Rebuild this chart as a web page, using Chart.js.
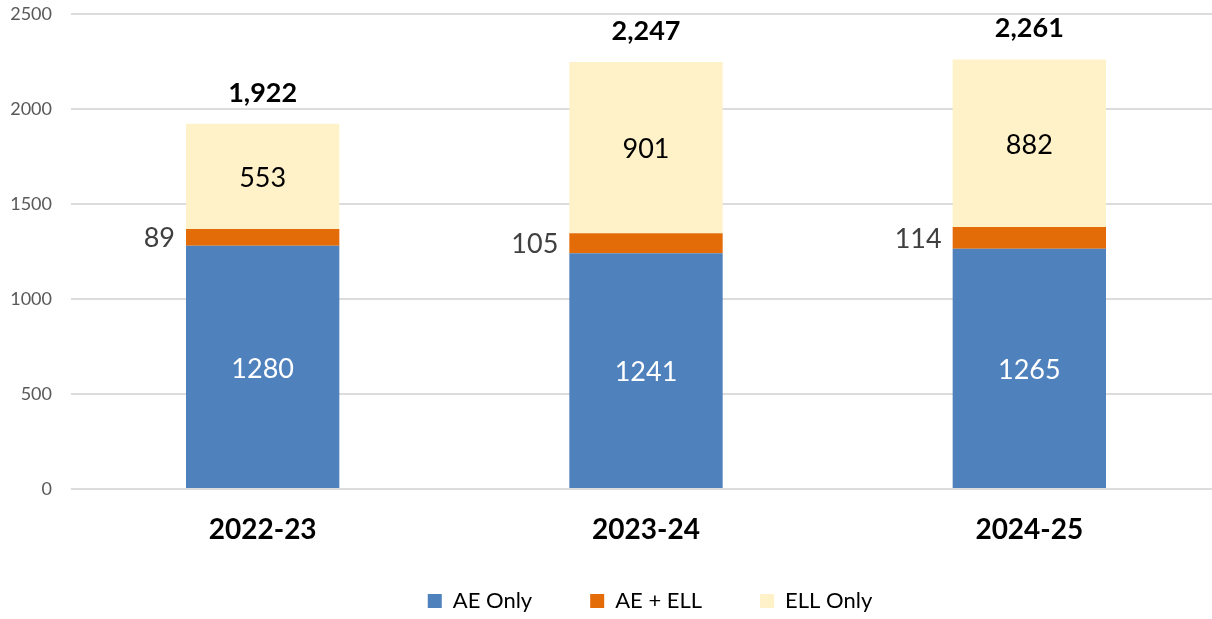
<!DOCTYPE html>
<html>
<head>
<meta charset="utf-8">
<script src="https://cdn.jsdelivr.net/npm/chart.js@4"></script>
<style>
  body { margin: 0; overflow: hidden; background: #fff; }
  #wrap { width: 1221px; height: 619px; }
</style>
</head>
<body>
<div id="wrap"><canvas id="enrollChart"></canvas></div>
<script>
// data
const years = ["2022-23", "2023-24", "2024-25"];
const aeOnly = [1280, 1241, 1265];
const aeEll = [89, 105, 114];
const ellOnly = [553, 901, 882];
const yTicks = [0, 500, 1000, 1500, 2000, 2500];

const FONT = "Lato, 'Open Sans', sans-serif";
const LEGEND_H = 40;

// labels on the bars + totals on top
const barLabels = {
  id: "barLabels",
  beforeLayout(chart) {
    // keep the legend box short, the big label padding is only for spacing
    const lg = chart.legend;
    if (lg && !lg._shortFit) {
      const fit = lg.fit.bind(lg);
      lg.fit = function () { fit(); this.height = LEGEND_H; };
      lg._shortFit = true;
    }
  },
  afterLayout(chart) {
    // move the legend to where Excel put it
    const lg = chart.legend;
    const dx = 650 - (lg.left + lg.right) / 2;
    lg.left += dx;
    lg.right += dx;
    lg.top = 601 - lg.options.labels.padding - 11;
    lg.bottom = chart.height;
    lg.height = lg.bottom - lg.top;
  },
  afterDatasetsDraw(chart) {
    const ctx = chart.ctx;
    ctx.save();
    ctx.textBaseline = "middle";
    chart.data.datasets.forEach((ds, i) => {
      const meta = chart.getDatasetMeta(i);
      meta.data.forEach((bar, j) => {
        const v = ds.data[j];
        const midY = (bar.y + bar.base) / 2;
        ctx.font = "27px " + FONT;
        if (i === 0) {
          ctx.fillStyle = "#ffffff";
          ctx.textAlign = "center";
          ctx.fillText(v, bar.x, midY + 2);
        } else if (i === 1) {
          ctx.fillStyle = "#404040";
          ctx.textAlign = "right";
          ctx.fillText(v, bar.x - bar.width / 2 - 11, midY + 1);
        } else {
          ctx.fillStyle = "#000000";
          ctx.textAlign = "center";
          ctx.fillText(v, bar.x, midY + 2);
          // total
          const total = aeOnly[j] + aeEll[j] + ellOnly[j];
          ctx.font = "bold 27px " + FONT;
          ctx.fillText(total.toLocaleString("en-US"), bar.x, bar.y - 31);
        }
      });
    });
    ctx.restore();
  }
};

const ctx = document.getElementById("enrollChart").getContext("2d");
const enrollChart = new Chart(ctx, {
  type: "bar",
  data: {
    labels: years,
    datasets: [
      { label: "AE Only", data: aeOnly, backgroundColor: "#4f81bd" },
      { label: "AE + ELL", data: aeEll, backgroundColor: "#e36c09" },
      { label: "ELL Only", data: ellOnly, backgroundColor: "#fff2c8" }
    ]
  },
  options: {
    responsive: true,
    maintainAspectRatio: false,
    animation: false,
    layout: { padding: { top: 14, right: 0, bottom: 0, left: 0 } },
    datasets: {
      bar: { categoryPercentage: 1, barPercentage: 0.4, borderWidth: 0 }
    },
    scales: {
      x: {
        stacked: true,
        grid: { display: false },
        border: { display: false },
        ticks: {
          color: "#000",
          font: { family: FONT, size: 28, weight: "bold" },
          padding: 16
        },
        afterFit(scale) {
          scale.height = 619 - 489 - LEGEND_H;
          scale.paddingLeft = 0;
          scale.paddingRight = 0;
        }
      },
      y: {
        stacked: true,
        min: 0,
        max: 2500,
        afterBuildTicks(scale) { scale.ticks = yTicks.map(v => ({ value: v })); },
        grid: { color: "#dcdcdc", lineWidth: 2, drawTicks: false },
        border: { display: false },
        ticks: {
          color: "#595959",
          font: { family: FONT, size: 18 },
          padding: 19,
          callback: (v) => String(v)
        },
        afterFit(scale) {
          scale.width = 71;
          scale.paddingTop = 0;
          scale.paddingBottom = 0;
        }
      }
    },
    plugins: {
      legend: {
        position: "bottom",
        labels: {
          boxWidth: 14,
          boxHeight: 14,
          padding: 58,
          color: "#000",
          font: { family: FONT, size: 22 }
        }
      },
      tooltip: { enabled: false }
    }
  },
  plugins: [barLabels]
});
</script>
</body>
</html>
